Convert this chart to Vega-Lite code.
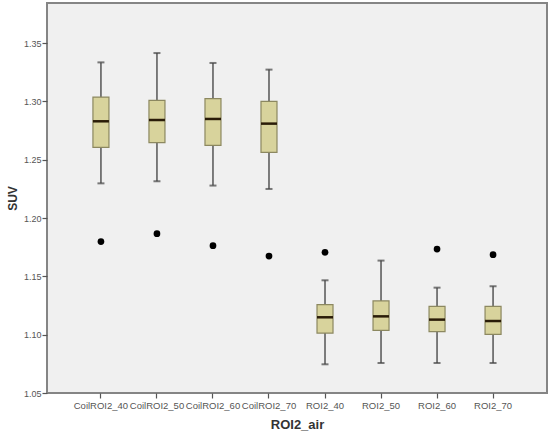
{
  "$schema": "https://vega.github.io/schema/vega-lite/v6.json",
  "width": 500,
  "height": 390,
  "autosize": {"type": "none"},
  "padding": {"left": 47, "top": 3, "right": 6, "bottom": 44},
  "background": "#ffffff",
  "config": {
    "font": "Liberation Sans",
    "view": {"fill": "#f0f0f0", "stroke": "#858585", "strokeWidth": 2}
  },
  "datasets": {
    "stats": [
      {"group": "CoilROI2_40", "lower": 1.2297, "q1": 1.2606, "median": 1.2829, "q3": 1.3037, "upper": 1.3334},
      {"group": "CoilROI2_50", "lower": 1.2315, "q1": 1.2646, "median": 1.2840, "q3": 1.3009, "upper": 1.3414},
      {"group": "CoilROI2_60", "lower": 1.2278, "q1": 1.2623, "median": 1.2849, "q3": 1.3023, "upper": 1.3329},
      {"group": "CoilROI2_70", "lower": 1.2249, "q1": 1.2563, "median": 1.2809, "q3": 1.3000, "upper": 1.3272},
      {"group": "ROI2_40", "lower": 1.0746, "q1": 1.1014, "median": 1.1149, "q3": 1.1258, "upper": 1.1466},
      {"group": "ROI2_50", "lower": 1.0757, "q1": 1.1037, "median": 1.1157, "q3": 1.1289, "upper": 1.1635},
      {"group": "ROI2_60", "lower": 1.0757, "q1": 1.1026, "median": 1.1129, "q3": 1.1243, "upper": 1.1403},
      {"group": "ROI2_70", "lower": 1.0757, "q1": 1.1003, "median": 1.1117, "q3": 1.1243, "upper": 1.1415}
    ],
    "outliers": [
      {"group": "CoilROI2_40", "SUV": 1.1798},
      {"group": "CoilROI2_50", "SUV": 1.1866},
      {"group": "CoilROI2_60", "SUV": 1.1763},
      {"group": "CoilROI2_70", "SUV": 1.1674},
      {"group": "ROI2_40", "SUV": 1.1706},
      {"group": "ROI2_60", "SUV": 1.1734},
      {"group": "ROI2_70", "SUV": 1.1686}
    ]
  },
  "encoding": {
    "x": {
      "field": "group",
      "type": "nominal",
      "sort": null,
      "scale": {"paddingInner": 0, "paddingOuter": 0.463},
      "axis": {
        "title": "ROI2_air",
        "titleFont": "Liberation Sans",
        "titleFontSize": 13,
        "titleFontWeight": "bold",
        "titleColor": "#333333",
        "titlePadding": 9,
        "labelAngle": 0,
        "labelFontSize": 9.5,
        "labelColor": "#555555",
        "labelPadding": 2,
        "tickColor": "#555555",
        "tickSize": 5,
        "tickWidth": 1.2,
        "domain": false,
        "grid": false
      }
    }
  },
  "layer": [
    {
      "data": {"name": "stats"},
      "mark": {"type": "rule", "color": "#555555", "strokeWidth": 1.5},
      "encoding": {
        "y": {
          "field": "lower",
          "type": "quantitative",
          "scale": {"domain": [1.05, 1.3843], "nice": false, "zero": false},
          "axis": {
            "title": "SUV",
            "titleFontSize": 12,
            "titleFontWeight": "bold",
            "titleColor": "#333333",
            "titlePadding": 4,
            "values": [1.05, 1.1, 1.15, 1.2, 1.25, 1.3, 1.35],
            "format": ".2f",
            "labelFontSize": 9,
            "labelColor": "#555555",
            "labelPadding": 1,
            "tickColor": "#555555",
            "tickSize": 5,
            "tickWidth": 1.2,
            "domain": false,
            "grid": false
          }
        },
        "y2": {"field": "upper"}
      }
    },
    {
      "data": {"name": "stats"},
      "mark": {"type": "tick", "color": "#444444", "size": 7, "thickness": 2},
      "encoding": {"y": {"field": "lower", "type": "quantitative"}}
    },
    {
      "data": {"name": "stats"},
      "mark": {"type": "tick", "color": "#444444", "size": 7, "thickness": 2},
      "encoding": {"y": {"field": "upper", "type": "quantitative"}}
    },
    {
      "data": {"name": "stats"},
      "mark": {"type": "bar", "width": 16, "fill": "#d8d39c", "stroke": "#8c8860", "strokeWidth": 1.2},
      "encoding": {
        "y": {"field": "q1", "type": "quantitative"},
        "y2": {"field": "q3"}
      }
    },
    {
      "data": {"name": "stats"},
      "mark": {"type": "tick", "color": "#2a1c08", "size": 16, "thickness": 2.5, "opacity": 1},
      "encoding": {"y": {"field": "median", "type": "quantitative"}}
    },
    {
      "data": {"name": "outliers"},
      "mark": {"type": "circle", "color": "#000000", "size": 45, "opacity": 1},
      "encoding": {"y": {"field": "SUV", "type": "quantitative"}}
    }
  ]
}
